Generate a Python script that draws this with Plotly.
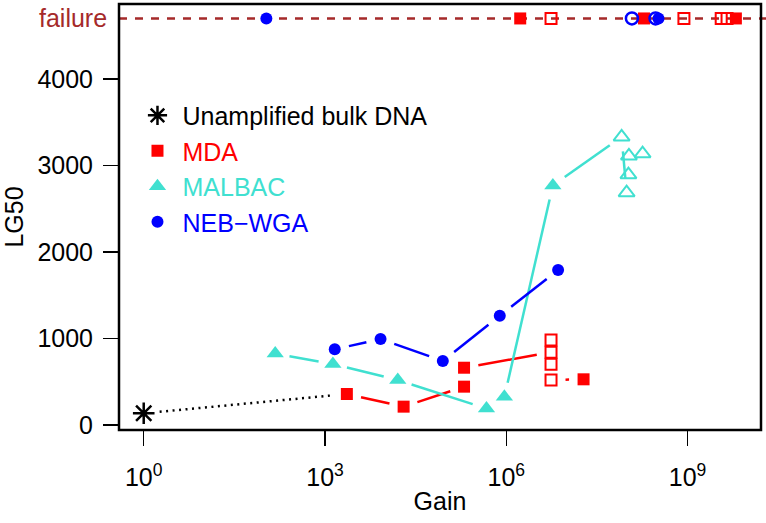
import math
import plotly.graph_objects as go

# ---------------- data ----------------
FAIL = 4700  # LG50 value used to plot failed samples

bulk_gain = [1]
bulk_lg50 = [135]

mda_gain = [2.3e3, 2.0e4, 2.0e5, 2.0e5, 1.9e7]
mda_lg50 = [358, 212, 443, 662, 528]
mda_open_gain = [5.5e6, 5.5e6, 5.5e6, 5.5e6]
mda_open_lg50 = [840, 983, 702, 520]
mda_fail_gain = [1.7e6, 1.9e8, 6.3e9]
mda_fail_open_gain = [5.5e6, 8.7e8, 3.6e9, 4.5e9]

malbac_gain = [1.5e2, 1.35e3, 1.6e4, 4.7e5, 9.3e5, 5.9e6]
malbac_lg50 = [825, 705, 520, 190, 325, 2770]
malbac_open_gain = [8.1e7, 9.8e7, 1.05e8, 1.07e8, 1.8e8]
malbac_open_lg50 = [3330, 2686, 2894, 3110, 3137]

neb_gain = [1.45e3, 8.3e3, 8.9e4, 7.8e5, 7.2e6]
neb_lg50 = [875, 994, 740, 1264, 1792]
neb_fail_gain = [1.07e2, 3.3e8]
neb_fail_open_gain = [1.2e8, 2.95e8]

x_tickvals = [1, 1e3, 1e6, 1e9]
x_ticktext = ["10<sup>0</sup>", "10<sup>3</sup>", "10<sup>6</sup>", "10<sup>9</sup>"]
y_tickvals = [0, 1000, 2000, 3000, 4000]

# ---------------- styling ----------------
RED = "#FF0000"
TURQ = "#40E0D0"
BLUE = "#0000FF"
BROWN = "#A52A2A"
FONT = "Liberation Sans, Arial, sans-serif"

FIG_W, FIG_H = 766, 523
ML, MR, MT, MB = 119, 5, 4, 93
PW, PH = FIG_W - ML - MR, FIG_H - MT - MB
XR = [-0.409, 10.215]
YR = [-58, 4867]
GAP = 14.5  # px gap around points (R type="b")


def to_px(g, y):
    lx = math.log10(g)
    return ((lx - XR[0]) / (XR[1] - XR[0]) * PW, (y - YR[0]) / (YR[1] - YR[0]) * PH)


def from_px(px, py):
    lx = XR[0] + px / PW * (XR[1] - XR[0])
    return 10 ** lx, YR[0] + py / PH * (YR[1] - YR[0])


def gapped(gs, ys, gap=GAP):
    ox, oy = [], []
    for i in range(len(gs) - 1):
        x0, y0 = to_px(gs[i], ys[i])
        x1, y1 = to_px(gs[i + 1], ys[i + 1])
        d = math.hypot(x1 - x0, y1 - y0)
        if d <= 2 * gap:
            continue
        ux, uy = (x1 - x0) / d, (y1 - y0) / d
        a = from_px(x0 + ux * gap, y0 + uy * gap)
        b = from_px(x1 - ux * gap, y1 - uy * gap)
        ox += [a[0], b[0], None]
        oy += [a[1], b[1], None]
    return ox, oy


fig = go.Figure()

# connecting lines
bx, by = gapped(bulk_gain + mda_gain[:1], bulk_lg50 + mda_lg50[:1], 16)
fig.add_trace(go.Scatter(x=bx, y=by, mode="lines", showlegend=False, hoverinfo="skip",
                         line=dict(color="black", width=2.5, dash="2px,4.5px")))

mda_all_g = mda_gain[:4] + mda_open_gain + mda_gain[4:]
mda_all_y = mda_lg50[:4] + mda_open_lg50 + mda_lg50[4:]
lx, ly = gapped(mda_all_g, mda_all_y)
fig.add_trace(go.Scatter(x=lx, y=ly, mode="lines", showlegend=False, hoverinfo="skip",
                         line=dict(color=RED, width=2.5)))

lx, ly = gapped(malbac_gain + malbac_open_gain, malbac_lg50 + malbac_open_lg50)
fig.add_trace(go.Scatter(x=lx, y=ly, mode="lines", showlegend=False, hoverinfo="skip",
                         line=dict(color=TURQ, width=2.5)))

lx, ly = gapped(neb_gain, neb_lg50)
fig.add_trace(go.Scatter(x=lx, y=ly, mode="lines", showlegend=False, hoverinfo="skip",
                         line=dict(color=BLUE, width=2.5)))

# markers
fig.add_trace(go.Scatter(x=bulk_gain, y=bulk_lg50, mode="markers", name="Unamplified bulk DNA",
                         marker=dict(symbol="asterisk-open", size=18, color="black",
                                     line=dict(color="black", width=2.5)), cliponaxis=False))
fig.add_trace(go.Scatter(x=mda_gain + mda_fail_gain, y=mda_lg50 + [FAIL] * len(mda_fail_gain),
                         mode="markers", name='<span style="color:#FF0000">MDA</span>',
                         marker=dict(symbol="square", size=12, color=RED, line=dict(width=0)),
                         cliponaxis=False))
fig.add_trace(go.Scatter(x=mda_open_gain + mda_fail_open_gain,
                         y=mda_open_lg50 + [FAIL] * len(mda_fail_open_gain),
                         mode="markers", showlegend=False,
                         marker=dict(symbol="square-open", size=11, color=RED,
                                     line=dict(color=RED, width=2)), cliponaxis=False))
fig.add_trace(go.Scatter(x=malbac_gain, y=malbac_lg50, mode="markers",
                         name='<span style="color:#40E0D0">MALBAC</span>',
                         marker=dict(symbol="triangle-up", size=15, color=TURQ, line=dict(width=0)),
                         cliponaxis=False))
fig.add_trace(go.Scatter(x=malbac_open_gain, y=malbac_open_lg50, mode="markers", showlegend=False,
                         marker=dict(symbol="triangle-up-open", size=14, color=TURQ,
                                     line=dict(color=TURQ, width=2)), cliponaxis=False))
fig.add_trace(go.Scatter(x=neb_gain + neb_fail_gain, y=neb_lg50 + [FAIL] * len(neb_fail_gain),
                         mode="markers", name='<span style="color:#0000FF">NEB\u2212WGA</span>',
                         marker=dict(symbol="circle", size=12, color=BLUE, line=dict(width=0)),
                         cliponaxis=False))
fig.add_trace(go.Scatter(x=neb_fail_open_gain, y=[FAIL] * len(neb_fail_open_gain), mode="markers",
                         showlegend=False,
                         marker=dict(symbol="circle-open", size=12, color=BLUE,
                                     line=dict(color=BLUE, width=2.5)), cliponaxis=False))

fig.update_layout(
    width=FIG_W, height=FIG_H, autosize=False,
    margin=dict(l=ML, r=MR, t=MT, b=MB, autoexpand=False),
    paper_bgcolor="white", plot_bgcolor="white",
    font=dict(family=FONT, size=25, color="black"),
    showlegend=True,
    legend=dict(x=0.021, y=0.792, xanchor="left", yanchor="top", bgcolor="rgba(0,0,0,0)",
                font=dict(size=25), traceorder="normal", itemwidth=40),
    xaxis=dict(type="log", range=XR, tickvals=x_tickvals, ticktext=x_ticktext, automargin=False,
               ticks="outside", ticklen=15, tickwidth=1.5, tickcolor="black",
               ticklabelstandoff=10,
               showgrid=False, zeroline=False, showline=False,
               tickfont=dict(size=25), title=dict(text="Gain", font=dict(size=25), standoff=2)),
    yaxis=dict(range=YR, tickvals=y_tickvals, ticks="outside", ticklen=15, tickwidth=1.5,
               ticklabelstandoff=5,
               automargin=False, tickcolor="black", showgrid=False, zeroline=False, showline=False,
               tickfont=dict(size=25), title=dict(text="LG50", font=dict(size=25), standoff=6)),
    shapes=[
        dict(type="line", xref="paper", yref="y", x0=0, x1=(PW + MR) / PW, y0=FAIL, y1=FAIL,
             line=dict(color=BROWN, width=2.5, dash="8px,8px"), layer="below"),
        dict(type="rect", xref="paper", yref="paper", x0=0, x1=1, y0=0, y1=1,
             line=dict(color="black", width=2.5), layer="above"),
    ],
    annotations=[
        dict(text="failure", xref="paper", yref="y", x=0, y=FAIL, xanchor="right",
             yanchor="middle", xshift=-10, showarrow=False, font=dict(color=BROWN, size=25)),
    ],
)

fig.write_html("out.html", config={"displayModeBar": False, "staticPlot": True},
               post_script="document.body.style.margin='0px';document.body.style.padding='0px';")
